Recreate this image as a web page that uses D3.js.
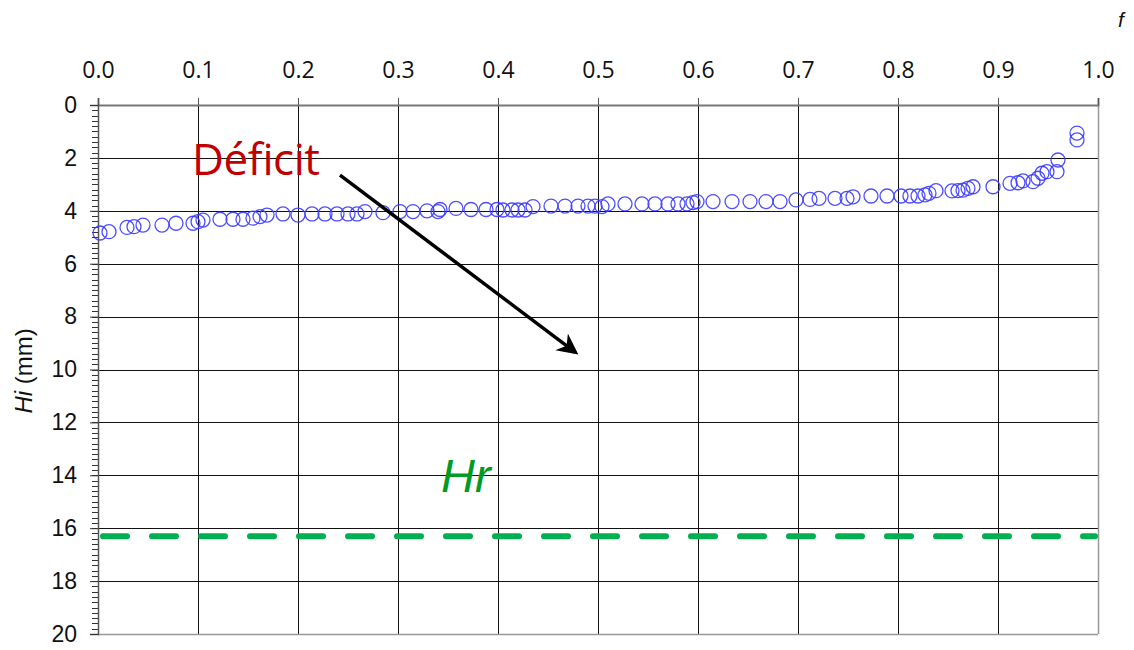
<!DOCTYPE html>
<html>
<head>
<meta charset="utf-8">
<script src="https://d3js.org/d3.v7.min.js"></script>
<style>
  body { margin: 0; background: #fff; }
</style>
</head>
<body>
<div id="deficit_Vis"></div>
<script>
// Hi against f, y axis reversed (0 at top) with the f axis on top.

// fraction f of each point
var fValues = [0.002, 0.011, 0.029, 0.036, 0.045, 0.064, 0.078, 0.095, 0.100, 0.105,
               0.122, 0.135, 0.145, 0.155, 0.162, 0.169, 0.185, 0.200, 0.214, 0.227,
               0.239, 0.250, 0.259, 0.267, 0.285, 0.302, 0.315, 0.329, 0.340, 0.342,
               0.358, 0.373, 0.388, 0.399, 0.405, 0.414, 0.420, 0.427, 0.435, 0.453,
               0.467, 0.480, 0.490, 0.497, 0.504, 0.510, 0.527, 0.544, 0.557, 0.570,
               0.580, 0.589, 0.595, 0.599, 0.615, 0.634, 0.652, 0.668, 0.682, 0.698,
               0.712, 0.721, 0.737, 0.749, 0.755, 0.773, 0.789, 0.803, 0.812, 0.820,
               0.827, 0.831, 0.838, 0.854, 0.860, 0.865, 0.870, 0.875, 0.895, 0.912,
               0.920, 0.925, 0.935, 0.940, 0.944, 0.949, 0.959, 0.960, 0.979, 0.979];

// Hi (mm) of each point
var hiValues = [4.84, 4.79, 4.63, 4.60, 4.54, 4.54, 4.47, 4.47, 4.41, 4.35,
                4.32, 4.32, 4.32, 4.28, 4.22, 4.16, 4.12, 4.16, 4.12, 4.12,
                4.12, 4.12, 4.12, 4.03, 4.07, 4.03, 4.03, 4.00, 4.03, 3.95,
                3.91, 3.95, 3.95, 3.95, 3.97, 3.97, 3.97, 3.97, 3.84, 3.82,
                3.82, 3.82, 3.82, 3.82, 3.84, 3.74, 3.74, 3.74, 3.74, 3.74,
                3.74, 3.74, 3.69, 3.65, 3.65, 3.65, 3.65, 3.65, 3.65, 3.59,
                3.57, 3.53, 3.53, 3.53, 3.47, 3.44, 3.44, 3.44, 3.44, 3.44,
                3.40, 3.34, 3.24, 3.25, 3.24, 3.22, 3.15, 3.09, 3.09, 2.96,
                2.94, 2.87, 2.90, 2.77, 2.58, 2.52, 2.52, 2.08, 1.06, 1.32];

var xTicks = [0, 0.1, 0.2, 0.3, 0.4, 0.5, 0.6, 0.7, 0.8, 0.9, 1.0];
var yTicks = [0, 2, 4, 6, 8, 10, 12, 14, 16, 18, 20];
var hrValue = 16.3;
// arrow from / to, in data units [f, Hi]
var arrowFrom = [0.242, 2.65];
var arrowTo = [0.477, 9.34];

(function () {
    var margin = { top: 105, right: 36, bottom: 16, left: 98 },
        width = 1134,
        height = 650;

    var svg = d3.select('#deficit_Vis')
                .append('svg')
                .attr('width', width)
                .attr('height', height)
                .append('g')
                .attr("transform", "translate(" + margin.left + ',' + margin.top + ')');

    width = width - margin.left - margin.right;   // 1000
    height = height - margin.top - margin.bottom;  // 529

    var xScale = d3.scaleLinear().domain([0, 1]).range([0, width]);
    var yScale = d3.scaleLinear().domain([0, 20]).range([0, height]);

    var data = fValues.map(function (f, i) { return { f: f, hi: hiValues[i] }; });

    // grid lines
    svg.selectAll('.hgrid')
        .data(yTicks.slice(1, -1))
        .enter()
        .append('line')
        .attr('x1', 0)
        .attr('x2', width)
        .attr('y1', function (d) { return Math.round(yScale(d)) + 0.5; })
        .attr('y2', function (d) { return Math.round(yScale(d)) + 0.5; })
        .attr('stroke', '#111')
        .attr('stroke-width', 1);

    svg.selectAll('.vgrid')
        .data(xTicks.slice(1, -1))
        .enter()
        .append('line')
        .attr('x1', function (d) { return Math.round(xScale(d)) + 0.5; })
        .attr('x2', function (d) { return Math.round(xScale(d)) + 0.5; })
        .attr('y1', 0)
        .attr('y2', height)
        .attr('stroke', '#111')
        .attr('stroke-width', 1);

    // frame (right and bottom)
    svg.append('line')
        .attr('x1', width + 0.5).attr('x2', width + 0.5)
        .attr('y1', 0).attr('y2', height)
        .attr('stroke', '#999').attr('stroke-width', 1.5);
    svg.append('line')
        .attr('x1', 0).attr('x2', width)
        .attr('y1', height + 0.5).attr('y2', height + 0.5)
        .attr('stroke', '#999').attr('stroke-width', 1.5);

    // Hr dashed line
    svg.append('line')
        .attr('x1', 5)
        .attr('x2', width - 3)
        .attr('y1', yScale(hrValue))
        .attr('y2', yScale(hrValue))
        .attr('stroke', '#00b050')
        .attr('stroke-width', 6)
        .attr('stroke-linecap', 'round')
        .attr('stroke-dasharray', '24 25');

    // top axis
    var xAxis = svg.append("g")
        .attr("class", "x axis")
        .call(d3.axisTop(xScale).tickValues(xTicks).tickSize(7).tickPadding(20)
              .tickFormat(d3.format('.1f')));
    xAxis.select('.domain').attr('stroke', '#777').attr('stroke-width', 2);
    xAxis.selectAll('.tick line').attr('stroke', '#555');
    xAxis.selectAll('text')
        .style('font-family', '"Open Sans", sans-serif')
        .style('font-size', '23px')
        .attr('fill', '#111');

    // minor ticks of the y axis
    svg.selectAll('.minor')
        .data(d3.range(0, 100).map(function (i) { return i * 0.2; }))
        .enter()
        .append('line')
        .attr('x1', -6)
        .attr('x2', 0)
        .attr('y1', function (d) { return Math.round(yScale(d)) + 0.5; })
        .attr('y2', function (d) { return Math.round(yScale(d)) + 0.5; })
        .attr('stroke', '#333')
        .attr('stroke-width', 1);

    // left axis
    var yAxis = svg.append("g")
        .attr("class", "y axis")
        .call(d3.axisLeft(yScale).tickValues(yTicks).tickSize(8).tickPadding(13));
    yAxis.select('.domain').attr('stroke', '#555').attr('stroke-width', 1.5);
    yAxis.selectAll('.tick line').attr('stroke', '#333');
    yAxis.selectAll('text')
        .style('font-family', '"Liberation Sans", Arial, sans-serif')
        .style('font-size', '23px')
        .attr('fill', '#111');

    // points
    svg.selectAll('circle')
        .data(data)
        .enter()
        .append('circle')
        .attr('cx', function (d) { return xScale(d.f); })
        .attr('cy', function (d) { return yScale(d.hi); })
        .attr('r', 7)
        .attr('fill', 'none')
        .attr('stroke', '#3b3bff')
        .attr('stroke-opacity', 0.9)
        .attr('stroke-width', 1.3);

    // arrow
    d3.select('svg').append('defs')
        .append('marker')
        .attr('id', 'head')
        .attr('viewBox', '0 0 10 10')
        .attr('refX', 8)
        .attr('refY', 5)
        .attr('markerWidth', 6)
        .attr('markerHeight', 6)
        .attr('markerUnits', 'strokeWidth')
        .attr('orient', 'auto')
        .append('path')
        .attr('d', 'M0,0 L10,5 L0,10 L3,5 Z')
        .attr('fill', '#000');

    svg.append('line')
        .attr('x1', xScale(arrowFrom[0]))
        .attr('y1', yScale(arrowFrom[1]))
        .attr('x2', xScale(arrowTo[0]))
        .attr('y2', yScale(arrowTo[1]))
        .attr('stroke', '#000')
        .attr('stroke-width', 3.5)
        .attr('marker-end', 'url(#head)');

    // labels
    svg.append('text')
        .attr('x', xScale(0.094))
        .attr('y', yScale(2.65))
        .attr('textLength', 128)
        .style('font-family', '"Open Sans", sans-serif')
        .style('font-size', '44px')
        .attr('fill', '#c00000')
        .text('Déficit');

    svg.append('text')
        .attr('x', xScale(0.343))
        .attr('y', yScale(14.63))
        .style('font-family', '"Liberation Sans", Arial, sans-serif')
        .style('font-size', '47px')
        .style('font-style', 'italic')
        .attr('fill', '#009a26')
        .text('Hr');

    // axis titles
    var yTitle = svg.append('text')
        .attr('transform', 'translate(' + (-66) + ',' + yScale(10.05) + ') rotate(-90)')
        .style('text-anchor', 'middle')
        .style('font-family', '"Liberation Sans", Arial, sans-serif')
        .style('font-size', '24px')
        .attr('fill', '#111');
    yTitle.append('tspan').style('font-style', 'italic').text('Hi');
    yTitle.append('tspan').text(' (mm)');

    svg.append('text')
        .attr('x', width + 20)
        .attr('y', -78)
        .style('font-family', '"Liberation Sans", Arial, sans-serif')
        .style('font-size', '21px')
        .style('font-style', 'italic')
        .attr('fill', '#111')
        .text('f');
})();
</script>
</body>
</html>
